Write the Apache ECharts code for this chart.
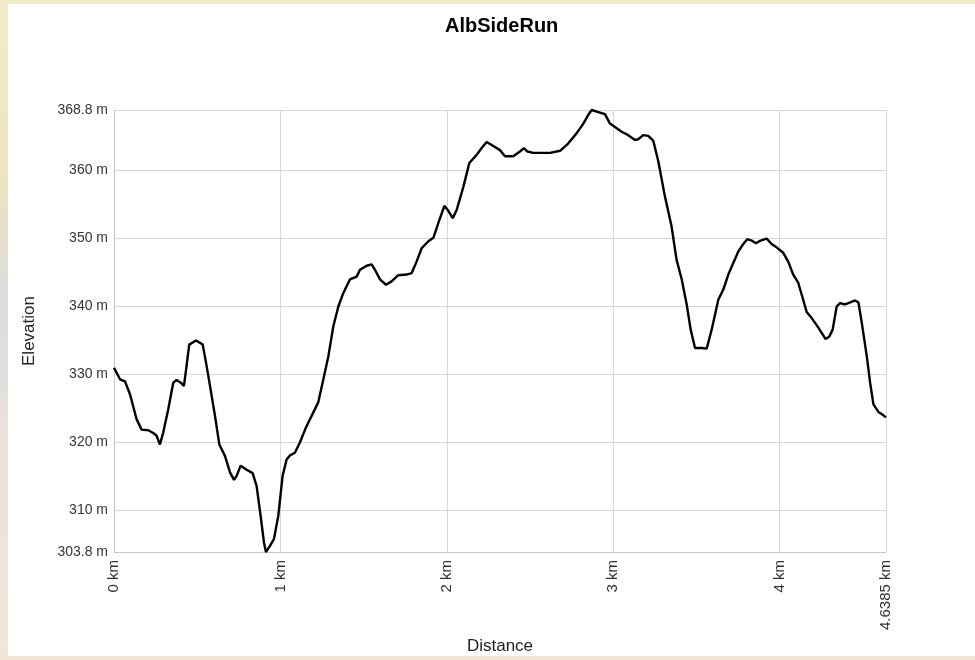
<!DOCTYPE html>
<html>
<head>
<meta charset="utf-8">
<script src="https://cdn.jsdelivr.net/npm/echarts@6/dist/echarts.min.js"></script>
<style>
  html, body { margin: 0; padding: 0; width: 975px; height: 660px; overflow: hidden;
    background: linear-gradient(180deg, #f4ecc8 0%, #efe4bc 25%, #dcdcdc 45%, #ece2dc 70%, #f1e6d6 100%); }
  #panel { position: absolute; left: 8px; top: 4px; width: 967px; height: 652px; background: #ffffff; }
  #chart { position: absolute; left: 0; top: 0; width: 975px; height: 660px; }
</style>
</head>
<body>
<div id="panel"></div>
<div id="chart"></div>
<script>
const titleText = 'AlbSideRun';
const xAxisName = 'Distance';
const yAxisName = 'Elevation';
const distanceKm = [0, 0.036, 0.066, 0.096, 0.136, 0.166, 0.206, 0.236, 0.256, 0.276, 0.296, 0.326, 0.356, 0.376, 0.406, 0.420, 0.433, 0.452, 0.493, 0.533, 0.557, 0.577, 0.607, 0.633, 0.667, 0.697, 0.721, 0.737, 0.761, 0.797, 0.833, 0.857, 0.881, 0.901, 0.913, 0.937, 0.961, 0.987, 1.013, 1.037, 1.057, 1.087, 1.117, 1.148, 1.167, 1.197, 1.227, 1.258, 1.288, 1.318, 1.348, 1.378, 1.418, 1.458, 1.478, 1.518, 1.548, 1.568, 1.598, 1.634, 1.668, 1.708, 1.758, 1.788, 1.818, 1.849, 1.889, 1.919, 1.949, 1.985, 2.005, 2.035, 2.059, 2.099, 2.135, 2.179, 2.209, 2.239, 2.279, 2.319, 2.349, 2.399, 2.439, 2.463, 2.483, 2.519, 2.620, 2.680, 2.730, 2.780, 2.820, 2.850, 2.870, 2.910, 2.950, 2.980, 3.010, 3.050, 3.090, 3.130, 3.150, 3.180, 3.210, 3.240, 3.270, 3.310, 3.350, 3.380, 3.411, 3.441, 3.465, 3.491, 3.531, 3.561, 3.591, 3.631, 3.661, 3.691, 3.721, 3.751, 3.781, 3.805, 3.831, 3.857, 3.885, 3.921, 3.951, 3.981, 4.021, 4.051, 4.081, 4.111, 4.141, 4.162, 4.192, 4.232, 4.276, 4.298, 4.318, 4.342, 4.362, 4.393, 4.423, 4.453, 4.473, 4.493, 4.523, 4.543, 4.563, 4.593, 4.623, 4.6385];
const elevationM = [330.9, 329.2, 328.9, 327.0, 323.3, 321.8, 321.7, 321.3, 320.9, 319.6, 321.4, 324.8, 328.7, 329.1, 328.6, 328.2, 330.6, 334.3, 334.9, 334.3, 331.1, 328.2, 323.8, 319.6, 317.9, 315.5, 314.4, 315.0, 316.5, 315.9, 315.4, 313.5, 309.1, 305.2, 303.8, 304.7, 305.7, 309.1, 315.0, 317.4, 318.0, 318.4, 319.9, 321.8, 322.8, 324.3, 325.8, 329.2, 332.6, 337.0, 339.9, 341.9, 343.9, 344.3, 345.3, 345.9, 346.1, 345.3, 343.9, 343.1, 343.6, 344.5, 344.6, 344.8, 346.5, 348.5, 349.5, 350.0, 352.2, 354.7, 354.1, 352.9, 354.1, 357.5, 361.0, 362.2, 363.2, 364.1, 363.5, 362.9, 362.0, 362.0, 362.7, 363.2, 362.7, 362.5, 362.5, 362.8, 363.9, 365.4, 366.8, 368.1, 368.8, 368.5, 368.2, 366.8, 366.3, 365.6, 365.1, 364.4, 364.5, 365.1, 365.0, 364.3, 361.3, 356.1, 351.7, 346.8, 343.9, 340.2, 336.5, 333.8, 333.8, 333.7, 336.5, 340.9, 342.4, 344.6, 346.3, 348.0, 349.1, 349.8, 349.6, 349.2, 349.6, 349.9, 349.1, 348.6, 347.8, 346.5, 344.6, 343.4, 340.9, 339.1, 338.2, 336.8, 335.1, 335.5, 336.5, 339.9, 340.4, 340.2, 340.5, 340.8, 340.5, 337.5, 332.6, 328.7, 325.5, 324.4, 323.9, 323.6];
const yMin = 303.8, yMax = 368.8, xMax = 4.6385;
const yTicks = [303.8, 310, 320, 330, 340, 350, 360, 368.8];
const xTicks = [0, 1, 2, 3, 4, 4.6385];

const font = 'Liberation Sans, Arial, sans-serif';
const chart = echarts.init(document.getElementById('chart'), null, { renderer: 'canvas' });
chart.setOption({
  backgroundColor: 'transparent',
  animation: false,
  title: {
    text: titleText, left: 440, top: 11,
    textStyle: { fontFamily: font, fontSize: 20, fontWeight: 'bold', color: '#000' }
  },
  grid: { left: 114, right: 89, top: 110, bottom: 107 },
  xAxis: {
    type: 'value', min: 0, max: xMax,
    name: xAxisName, nameLocation: 'middle', nameGap: 86,
    nameTextStyle: { fontFamily: font, fontSize: 17, color: '#222' },
    axisLine: { show: true, onZero: false, lineStyle: { color: '#c8c8c8' } },
    axisTick: { show: false, customValues: xTicks },
    axisLabel: { customValues: xTicks, rotate: 90, margin: 8, fontFamily: font, fontSize: 15, color: '#333',
      formatter: v => v + ' km' },
    splitLine: { show: true, lineStyle: { color: '#d6d6d6', width: 1 } }
  },
  yAxis: {
    type: 'value', min: yMin, max: yMax,
    name: yAxisName, nameLocation: 'middle', nameGap: 76,
    nameTextStyle: { fontFamily: font, fontSize: 17, color: '#222' },
    axisLine: { show: true, lineStyle: { color: '#c8c8c8' } },
    axisTick: { show: false, customValues: yTicks },
    axisLabel: { customValues: yTicks, margin: 6, fontFamily: font, fontSize: 14, color: '#333',
      formatter: v => v + ' m' },
    splitLine: { show: true, lineStyle: { color: '#d6d6d6', width: 1 } }
  },
  series: [{
    type: 'line',
    data: distanceKm.map((d, i) => [d, elevationM[i]]),
    showSymbol: false, symbol: 'none',
    lineStyle: { color: '#000', width: 2.4 },
    clip: false
  }]
});
</script>
</body>
</html>
